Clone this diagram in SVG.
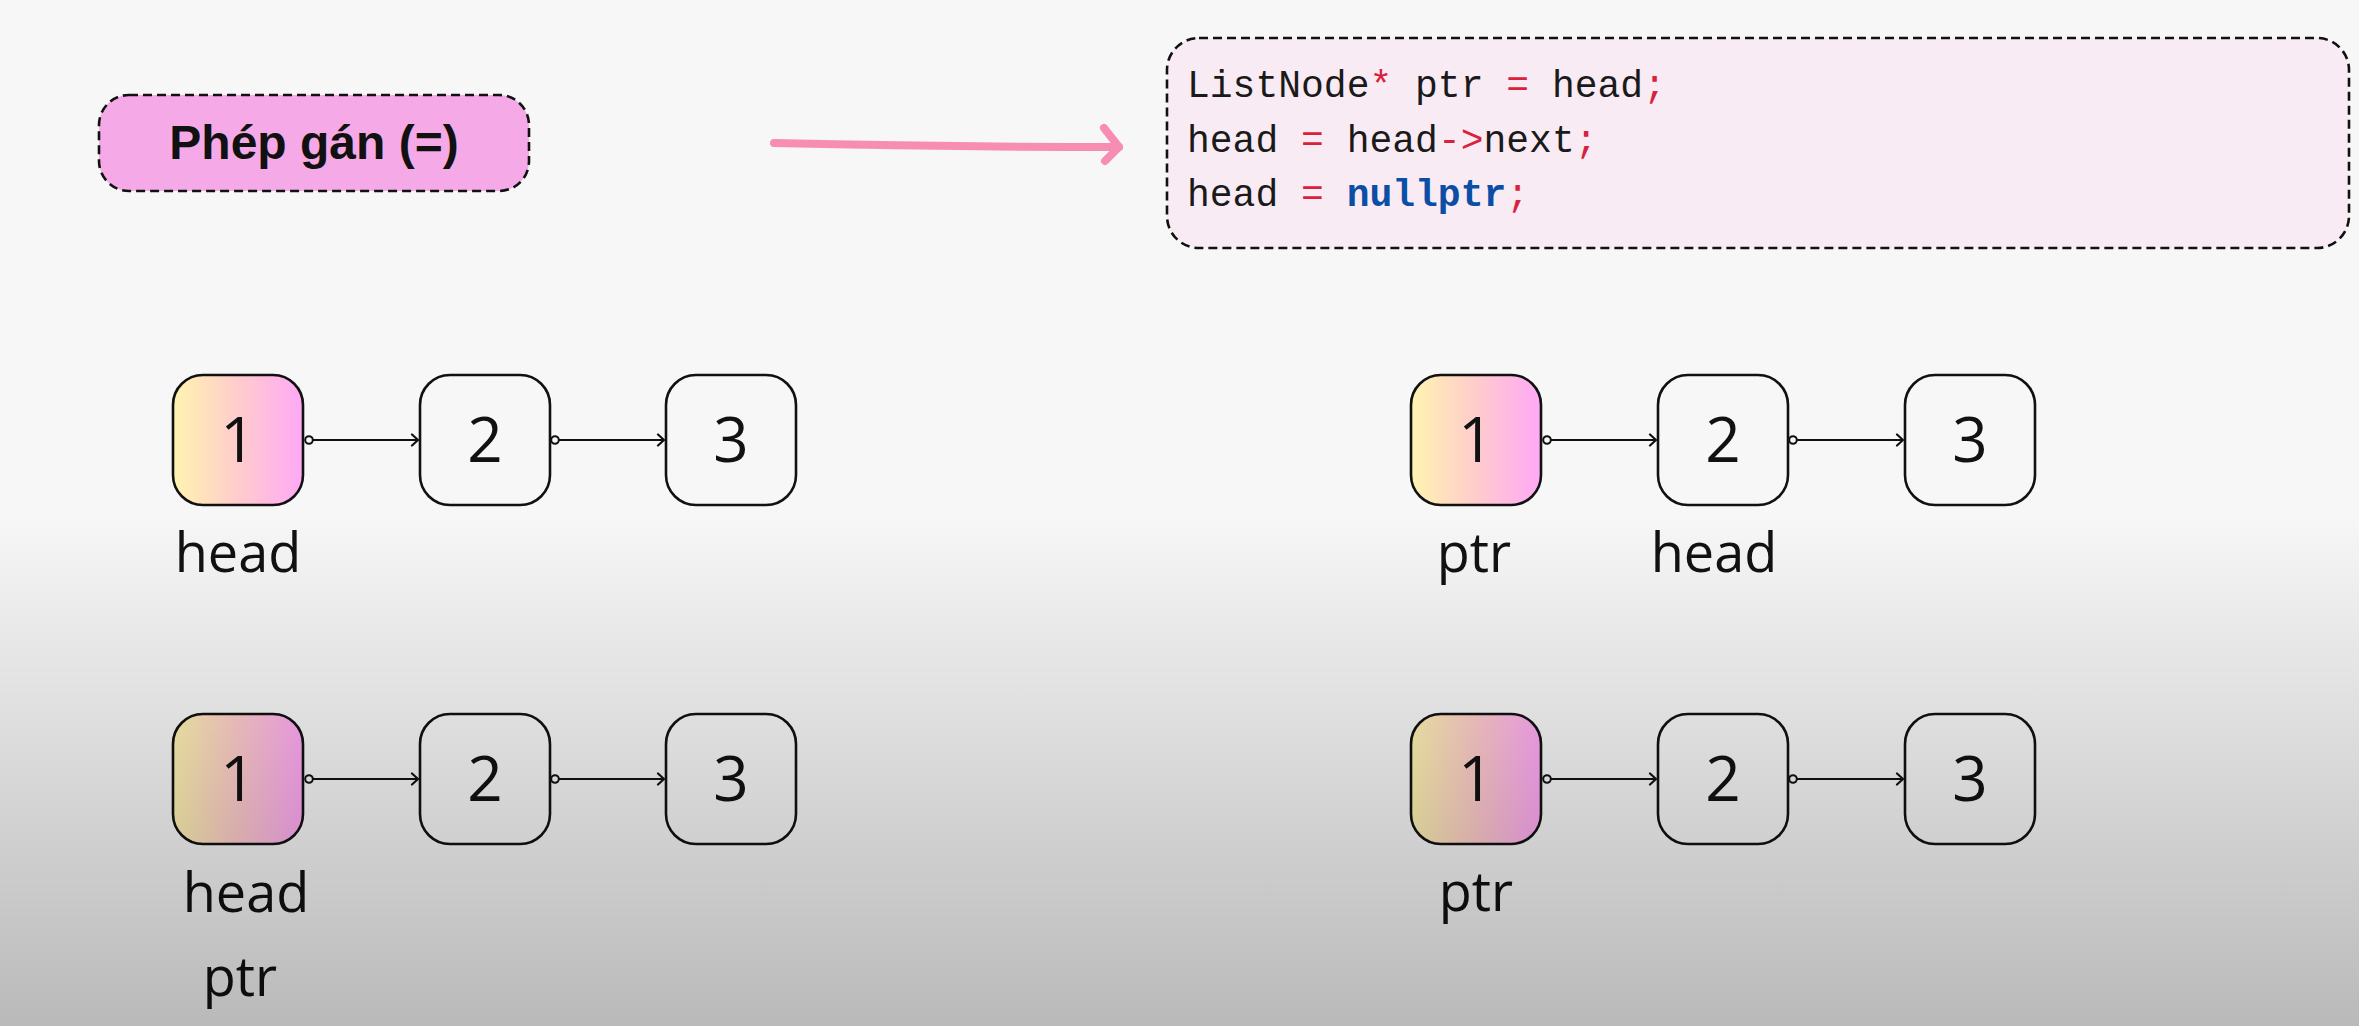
<svg xmlns="http://www.w3.org/2000/svg" width="2359" height="1026" viewBox="0 0 2359 1026">
  <defs>
    <linearGradient id="shade" x1="0" y1="0" x2="0" y2="1">
      <stop offset="0" stop-color="#000" stop-opacity="0"/>
      <stop offset="0.5" stop-color="#000" stop-opacity="0"/>
      <stop offset="1" stop-color="#000" stop-opacity="0.25"/>
    </linearGradient>
    <linearGradient id="headGrad" x1="0" y1="0" x2="1" y2="0">
      <stop offset="0" stop-color="#fff4b0"/>
      <stop offset="0.5" stop-color="#ffcccc"/>
      <stop offset="1" stop-color="#ffa8f6"/>
    </linearGradient>
    <marker id="arrow" markerUnits="userSpaceOnUse" markerWidth="14" markerHeight="14" refX="12" refY="7" orient="auto">
      <path d="M6 1.5 L12 7 L6 12.5" fill="none" stroke="#111" stroke-width="2.2" stroke-linecap="round" stroke-linejoin="round"/>
    </marker>
    <marker id="dot" markerUnits="userSpaceOnUse" markerWidth="12" markerHeight="12" refX="6" refY="6" orient="auto">
      <circle cx="6" cy="6" r="3.8" fill="#f7f7f7" stroke="#111" stroke-width="2"/>
    </marker>
  </defs>
  <style>
    .node { stroke: #111; stroke-width: 2.6; fill: none; }
    .first { fill: url(#headGrad); }
    .num { font-family: "Open Sans", "Noto Sans", sans-serif; font-size: 62px; fill: #111; text-anchor: middle; }
    .lbl { font-family: "Open Sans", "Noto Sans", sans-serif; font-size: 54px; fill: #111; text-anchor: middle; }
    .link { stroke: #111; stroke-width: 2.2; fill: none; marker-start: url(#dot); marker-end: url(#arrow); }
    .dash { stroke: #111; stroke-width: 2.6; stroke-dasharray: 9 5; }
    .code { font-family: "Liberation Mono", "Courier New", monospace; font-size: 38px; fill: #1a1a1a; }
    .op { fill: #d9213c; }
    .kw { fill: #0b4ea6; font-weight: bold; }
  </style>

  <rect x="0" y="0" width="2359" height="1026" fill="#f7f7f7"/>

  <g id="title">
    <rect class="dash" x="99" y="95" width="430" height="96" rx="30" fill="#f5aae7"/>
    <text x="314" y="159" font-family="Liberation Sans, Arial, sans-serif" font-size="48" font-weight="bold" fill="#111" text-anchor="middle">Phép gán (=)</text>
  </g>

  <g id="code">
    <rect class="dash" x="1167" y="38" width="1182" height="210" rx="32" fill="#f9ebf3"/>
    <text class="code" x="1187" y="97" xml:space="preserve">ListNode<tspan class="op">*</tspan> ptr <tspan class="op">=</tspan> head<tspan class="op">;</tspan></text>
    <text class="code" x="1187" y="152" xml:space="preserve">head <tspan class="op">=</tspan> head<tspan class="op">-&gt;</tspan>next<tspan class="op">;</tspan></text>
    <text class="code" x="1187" y="206" xml:space="preserve">head <tspan class="op">=</tspan> <tspan class="kw">nullptr</tspan><tspan class="op">;</tspan></text>
  </g>

  <g id="connectors">
    <g id="pink-arrow" fill="none" stroke="#f78db3" stroke-width="8" stroke-linecap="round" stroke-linejoin="round">
      <path d="M774 143 Q 950 147 1119 147"/>
      <path d="M1104 128 L1119 147 L1105 161"/>
    </g>
    <!-- top left -->
    <path class="link" d="M309 440 H418"/>
    <path class="link" d="M555 440 H664"/>
    <!-- bottom left -->
    <path class="link" d="M309 779 H418"/>
    <path class="link" d="M555 779 H664"/>
    <!-- top right -->
    <path class="link" d="M1547 440 H1656"/>
    <path class="link" d="M1793 440 H1903"/>
    <!-- bottom right -->
    <path class="link" d="M1547 779 H1656"/>
    <path class="link" d="M1793 779 H1903"/>
  </g>

  <g id="list-top-left">
    <g id="tl-n1"><rect class="node first" x="173" y="375" width="130" height="130" rx="30"/><text class="num" x="238" y="462">1</text></g>
    <g id="tl-n2"><rect class="node" x="420" y="375" width="130" height="130" rx="30"/><text class="num" x="485" y="462">2</text></g>
    <g id="tl-n3"><rect class="node" x="666" y="375" width="130" height="130" rx="30"/><text class="num" x="731" y="462">3</text></g>
    <text class="lbl" x="238" y="572">head</text>
  </g>

  <g id="list-bottom-left">
    <g id="bl-n1"><rect class="node first" x="173" y="714" width="130" height="130" rx="30"/><text class="num" x="238" y="801">1</text></g>
    <g id="bl-n2"><rect class="node" x="420" y="714" width="130" height="130" rx="30"/><text class="num" x="485" y="801">2</text></g>
    <g id="bl-n3"><rect class="node" x="666" y="714" width="130" height="130" rx="30"/><text class="num" x="731" y="801">3</text></g>
    <text class="lbl" x="246" y="912">head</text>
    <text class="lbl" x="240" y="996">ptr</text>
  </g>

  <g id="list-top-right">
    <g id="tr-n1"><rect class="node first" x="1411" y="375" width="130" height="130" rx="30"/><text class="num" x="1476" y="462">1</text></g>
    <g id="tr-n2"><rect class="node" x="1658" y="375" width="130" height="130" rx="30"/><text class="num" x="1723" y="462">2</text></g>
    <g id="tr-n3"><rect class="node" x="1905" y="375" width="130" height="130" rx="30"/><text class="num" x="1970" y="462">3</text></g>
    <text class="lbl" x="1474" y="572">ptr</text>
    <text class="lbl" x="1714" y="572">head</text>
  </g>

  <g id="list-bottom-right">
    <g id="br-n1"><rect class="node first" x="1411" y="714" width="130" height="130" rx="30"/><text class="num" x="1476" y="801">1</text></g>
    <g id="br-n2"><rect class="node" x="1658" y="714" width="130" height="130" rx="30"/><text class="num" x="1723" y="801">2</text></g>
    <g id="br-n3"><rect class="node" x="1905" y="714" width="130" height="130" rx="30"/><text class="num" x="1970" y="801">3</text></g>
    <text class="lbl" x="1476" y="911">ptr</text>
  </g>

  <rect x="0" y="0" width="2359" height="1026" fill="url(#shade)" pointer-events="none"/>
</svg>
